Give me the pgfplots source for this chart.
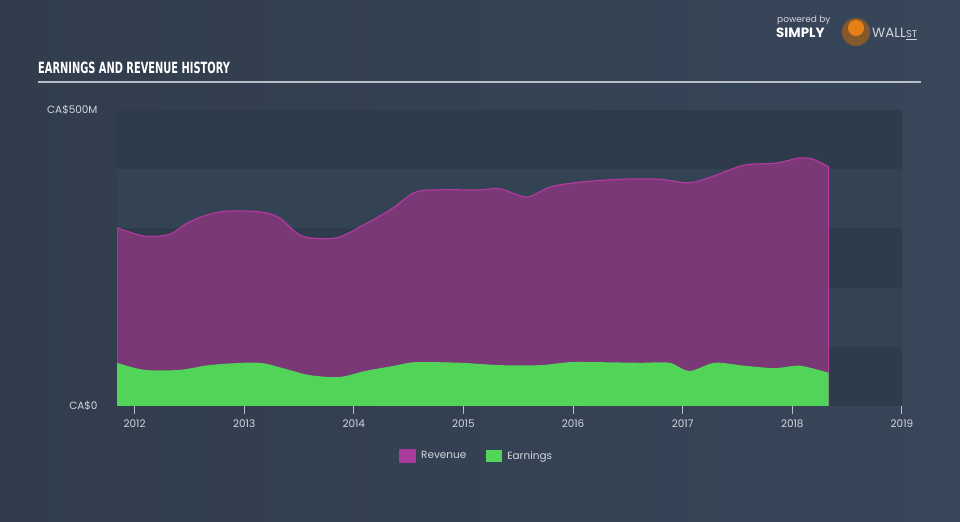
\documentclass[border=0pt]{standalone}
\usepackage{pgfplots}
\pgfplotsset{compat=1.18}
\usepackage{fontspec}
\setmainfont{Poppins}
\newfontfamily\titlefont{DejaVu Sans Condensed}
\definecolor{bgl}{HTML}{313D4C}
\definecolor{bgr}{HTML}{38465A}
\definecolor{banddark}{HTML}{2E3B4B}
\definecolor{bandlight}{HTML}{344354}
\definecolor{revfill}{HTML}{7A3876}
\definecolor{revline}{HTML}{B1399F}
\definecolor{revleg}{HTML}{A83B9A}
\definecolor{earnfill}{HTML}{52D458}
\definecolor{axisgray}{HTML}{B8BEC8}
\definecolor{labelgray}{HTML}{D2D6DC}

\begin{document}
\begin{tikzpicture}[x=1bp,y=1bp]
\shade[left color=bgl,right color=bgr] (0,0) rectangle (960,522);
\useasboundingbox (0,0) rectangle (960,522);
% title and rule
\node[anchor=base west,text=white,inner sep=0pt,font=\titlefont\bfseries\fontsize{15.5}{17}\selectfont] at (38,448) {\scalebox{0.71}[1]{EARNINGS AND REVENUE HISTORY}};
\draw[axisgray,line width=1.5bp] (38,440) -- (921,440);
% logo
\node[anchor=base west,inner sep=0pt,text=labelgray,font=\fontsize{9}{10}\selectfont] at (777,499) {powered by};
\node[anchor=base west,inner sep=0pt,text=white,font=\bfseries\fontsize{13.5}{15}\selectfont] at (776,484) {SIMPLY};
\fill[brown!70!black] (856,490) circle (14);
\fill[orange!60!brown] (856,494) circle (8);
\node[anchor=base west,inner sep=0pt,text=labelgray,font=\fontsize{13.5}{15}\selectfont] at (872,484) {WALL\underline{\fontsize{10}{12}\selectfont ST}};
\begin{axis}[
  at={(117bp,116bp)}, anchor=south west,
  scale only axis, width=785bp, height=296bp,
  xmin=2011.84, xmax=2019, ymin=0, ymax=500,
  axis x line*=bottom, axis y line*=left,
  x axis line style={draw=axisgray,line width=1bp},
  y axis line style={draw=none},
  xtick={2012,...,2019},
  xtick style={draw=axisgray,line width=1bp},
  major tick length=8bp, tick align=outside,
  ytick={0,500}, yticklabels={CA\$0,CA\$500M},
  ytick style={draw=none},
  xticklabel style={text=labelgray,font=\fontsize{10.5}{12}\selectfont,/pgf/number format/1000 sep={},/pgf/number format/assume math mode=true,yshift=-2bp},
  yticklabel style={text=labelgray,font=\fontsize{10.5}{12}\selectfont,xshift=-8bp},
  legend style={at={(0.359,-0.169)},anchor=west,draw=none,fill=none,inner sep=0pt,text=labelgray,font=\fontsize{10.5}{12}\selectfont,legend columns=2,/tikz/every even column/.append style={column sep=18bp}},
  legend cell align=left,
  legend image code/.code={\fill[#1] (0bp,-6bp) rectangle (16bp,6bp); \path (19bp,0bp);},
]
\fill[banddark] (axis cs:2011.84,400) rectangle (axis cs:2019,500);
\fill[bandlight] (axis cs:2011.84,300) rectangle (axis cs:2019,400);
\fill[banddark] (axis cs:2011.84,200) rectangle (axis cs:2019,300);
\fill[bandlight] (axis cs:2011.84,100) rectangle (axis cs:2019,200);
\fill[banddark] (axis cs:2011.84,0) rectangle (axis cs:2019,100);
\addplot[draw=revline,line width=1.2bp,fill=revfill,smooth,tension=0.5,
  legend image code/.code={\fill[revleg] (0bp,-6bp) rectangle (16bp,6bp); \path (19bp,0bp);}] coordinates {
(2011.84,301) (2012.09,287) (2012.32,290) (2012.50,311) (2012.78,328)
(2013.14,328) (2013.32,318) (2013.53,287) (2013.84,284) (2014.09,306)
(2014.33,331) (2014.56,361) (2014.78,365) (2015.15,365) (2015.33,367)
(2015.58,353) (2015.79,370) (2016.06,378) (2016.43,383) (2016.79,383)
(2017.06,377) (2017.29,389) (2017.56,407) (2017.84,410) (2018.07,419)
(2018.20,416) (2018.33,404)
} \closedcycle;
\addlegendentry{Revenue}
\addplot[draw=none,fill=earnfill,smooth,tension=0.5] coordinates {
(2011.84,73) (2012.09,61) (2012.41,61) (2012.68,69) (2013.00,73)
(2013.18,72) (2013.41,61) (2013.60,52) (2013.87,49) (2014.10,59)
(2014.37,68) (2014.56,74) (2014.97,73) (2015.33,69) (2015.70,69)
(2015.97,74) (2016.24,74) (2016.61,73) (2016.88,73) (2017.06,59)
(2017.29,73) (2017.56,68) (2017.84,64) (2018.07,68) (2018.33,56)
} \closedcycle;
\addlegendentry{Earnings}
\end{axis}
\end{tikzpicture}
\end{document}
